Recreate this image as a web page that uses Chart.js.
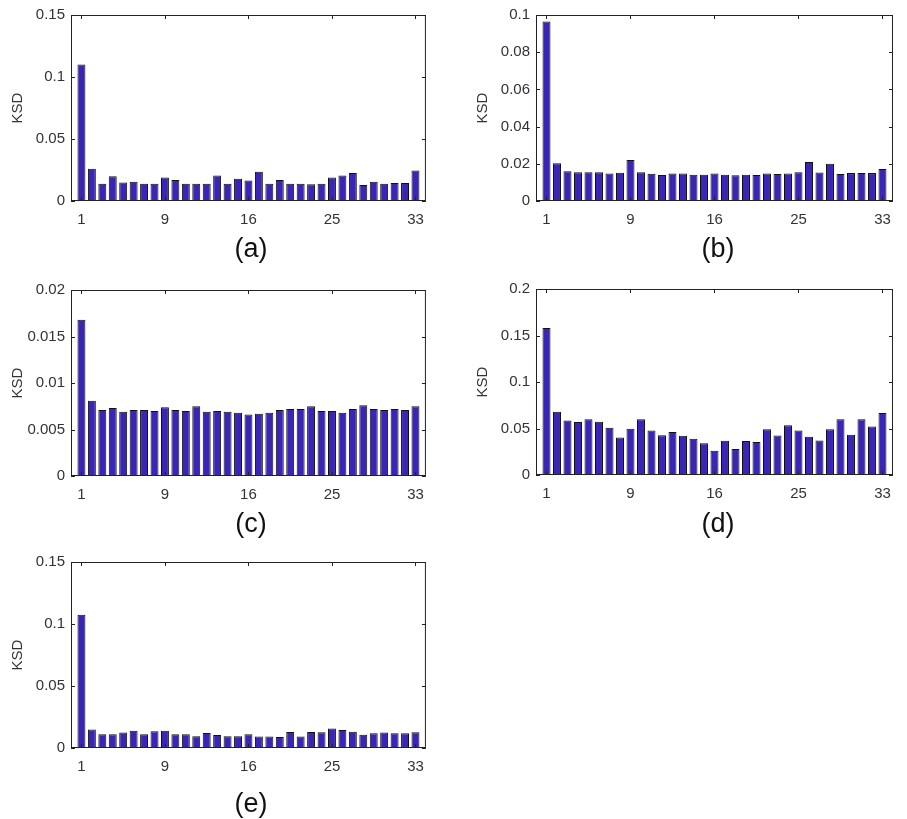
<!DOCTYPE html>
<html>
<head>
<meta charset="utf-8">
<script src="https://cdn.jsdelivr.net/npm/chart.js@4.4.0/dist/chart.umd.min.js"></script>
<style>
  body { margin: 0; background: #fff; width: 907px; height: 819px; position: relative; overflow: hidden;
         font-family: "Liberation Sans", Arial, sans-serif; }
  canvas { position: absolute; }
  .cap { position: absolute; font-size: 27px; line-height: 1; color: #111; transform: translate(-50%, -50%); }
</style>
</head>
<body>
<canvas id="c0"></canvas>
<canvas id="c1"></canvas>
<canvas id="c2"></canvas>
<canvas id="c3"></canvas>
<canvas id="c4"></canvas>
<script>
// band index 1..33 and the x tick marks (MATLAB style: evenly spaced, 3rd labelled 16)
const bands = [1, 2, 3, 4, 5, 6, 7, 8, 9, 10, 11, 12, 13, 14, 15, 16, 17,
               18, 19, 20, 21, 22, 23, 24, 25, 26, 27, 28, 29, 30, 31, 32, 33];
const xTickPos = [1, 9, 17, 25, 33];
const xTickText = ['1', '9', '16', '25', '33'];

// KSD per band
const ksdA = [0.110, 0.026, 0.014, 0.020, 0.015, 0.0155, 0.014, 0.014, 0.019, 0.017, 0.014,
              0.014, 0.014, 0.0205, 0.014, 0.018, 0.0165, 0.0235, 0.014, 0.017, 0.014, 0.014,
              0.0135, 0.014, 0.019, 0.0205, 0.0225, 0.013, 0.0155, 0.014, 0.0145, 0.0145, 0.0245];
const ksdB = [0.0965, 0.0203, 0.016, 0.0155, 0.0155, 0.0155, 0.0148, 0.0152, 0.022, 0.0155, 0.0147,
              0.014, 0.0148, 0.0148, 0.0141, 0.0141, 0.0148, 0.0141, 0.0138, 0.0141, 0.014, 0.0148,
              0.0145, 0.0148, 0.0155, 0.021, 0.0153, 0.020, 0.0145, 0.015, 0.015, 0.015, 0.0172];
const ksdC = [0.0168, 0.0081, 0.0071, 0.0073, 0.0069, 0.0071, 0.0071, 0.0070, 0.0074, 0.0071, 0.0070,
              0.0075, 0.0069, 0.0070, 0.0069, 0.0068, 0.0066, 0.0067, 0.0068, 0.0071, 0.0072, 0.0072,
              0.0075, 0.0070, 0.0070, 0.0068, 0.0072, 0.0076, 0.0072, 0.0071, 0.0072, 0.0071, 0.0075];
const ksdD = [0.158, 0.068, 0.0586, 0.057, 0.060, 0.0572, 0.0507, 0.0403, 0.0497, 0.060, 0.0479,
              0.0428, 0.0462, 0.0421, 0.039, 0.0341, 0.0262, 0.0369, 0.0279, 0.0366, 0.0355, 0.0493,
              0.0424, 0.0534, 0.0479, 0.041, 0.0372, 0.0493, 0.060, 0.0434, 0.060, 0.0521, 0.0666];
const ksdE = [0.1075, 0.015, 0.011, 0.011, 0.0125, 0.014, 0.011, 0.0135, 0.014, 0.011, 0.011,
              0.0095, 0.012, 0.0105, 0.0095, 0.0095, 0.011, 0.0093, 0.0093, 0.0088, 0.013, 0.0093,
              0.013, 0.0127, 0.0158, 0.0145, 0.0132, 0.0106, 0.0119, 0.0124, 0.0119, 0.0119, 0.0127];

const series = [ksdA, ksdB, ksdC, ksdD, ksdE];
const yMaxes = [0.15, 0.1, 0.02, 0.2, 0.15];
const ySteps = [0.05, 0.02, 0.005, 0.05, 0.05];
const captions = ['(a)', '(b)', '(c)', '(d)', '(e)'];

// axes boxes on the page
const boxes = [
  {x: 71, y: 7, w: 357, h: 194},
  {x: 536, y: 7, w: 359, h: 194},
  {x: 71, y: 282, w: 357, h: 194},
  {x: 536, y: 281, w: 359, h: 194},
  {x: 71, y: 554, w: 357, h: 194}
];
const capPos = [[251, 248], [718, 248], [251, 523], [718, 523], [251, 803]];

const font = 'Liberation Sans, Arial, sans-serif';
const barFill = '#3a26b6';

// box round the axes with inward tick marks
const boxTicks = {
  id: 'boxTicks',
  afterDraw(chart) {
    const {ctx, chartArea: a, scales: {x, y}} = chart;
    ctx.save();
    ctx.strokeStyle = '#222';
    ctx.lineWidth = 1;
    ctx.strokeRect(a.left + 0.5, a.top + 0.5, a.right - a.left - 1, a.bottom - a.top - 1);
    ctx.beginPath();
    x.ticks.forEach(t => {
      const px = Math.round(x.getPixelForValue(t.value)) + 0.5;
      ctx.moveTo(px, a.bottom); ctx.lineTo(px, a.bottom - 4);
      ctx.moveTo(px, a.top); ctx.lineTo(px, a.top + 4);
    });
    y.ticks.forEach(t => {
      const py = Math.round(y.getPixelForValue(t.value)) + 0.5;
      ctx.moveTo(a.left, py); ctx.lineTo(a.left + 4, py);
      ctx.moveTo(a.right, py); ctx.lineTo(a.right - 4, py);
    });
    ctx.stroke();
    ctx.restore();
  }
};

series.forEach((vals, k) => {
  const b = boxes[k];
  const cv = document.getElementById('c' + k);
  cv.width = b.w + 71 + 6;
  cv.height = b.h + 7 + 32;
  cv.style.left = (b.x - 71) + 'px';
  cv.style.top = (b.y - 7) + 'px';

  new Chart(cv, {
    type: 'bar',
    data: {
      datasets: [{
        data: bands.map((n, i) => ({x: n, y: vals[i]})),
        backgroundColor: barFill,
        borderColor: '#111',
        borderWidth: 1,
        borderSkipped: false,
        categoryPercentage: 0.76,
        barPercentage: 1
      }]
    },
    options: {
      responsive: false,
      animation: false,
      layout: {padding: {top: 7, right: 6, left: 0, bottom: 0}},
      plugins: {legend: {display: false}, tooltip: {enabled: false}},
      scales: {
        x: {
          type: 'linear', min: 0, max: 34, offset: false,
          grid: {display: false, drawTicks: false},
          border: {display: false},
          afterBuildTicks: s => { s.ticks = xTickPos.map(v => ({value: v})); },
          afterFit: s => { s.height = 32; },
          ticks: {autoSkip: false, maxRotation: 0, padding: 10, color: '#333',
                  font: {family: font, size: 15},
                  callback: (v, i) => xTickText[i]}
        },
        y: {
          min: 0, max: yMaxes[k],
          grid: {display: false, drawTicks: false},
          border: {display: false},
          afterFit: s => { s.width = 71; },
          ticks: {stepSize: ySteps[k], padding: 6, color: '#333', font: {family: font, size: 15},
                  callback: v => String(parseFloat(v.toFixed(6)))},
          title: {display: true, text: 'KSD', color: '#333', padding: {top: 9},
                  font: {family: font, size: 15}}
        }
      }
    },
    plugins: [boxTicks]
  });

  const d = document.createElement('div');
  d.className = 'cap';
  d.textContent = captions[k];
  d.style.left = capPos[k][0] + 'px';
  d.style.top = capPos[k][1] + 'px';
  document.body.appendChild(d);
});
</script>
</body>
</html>
